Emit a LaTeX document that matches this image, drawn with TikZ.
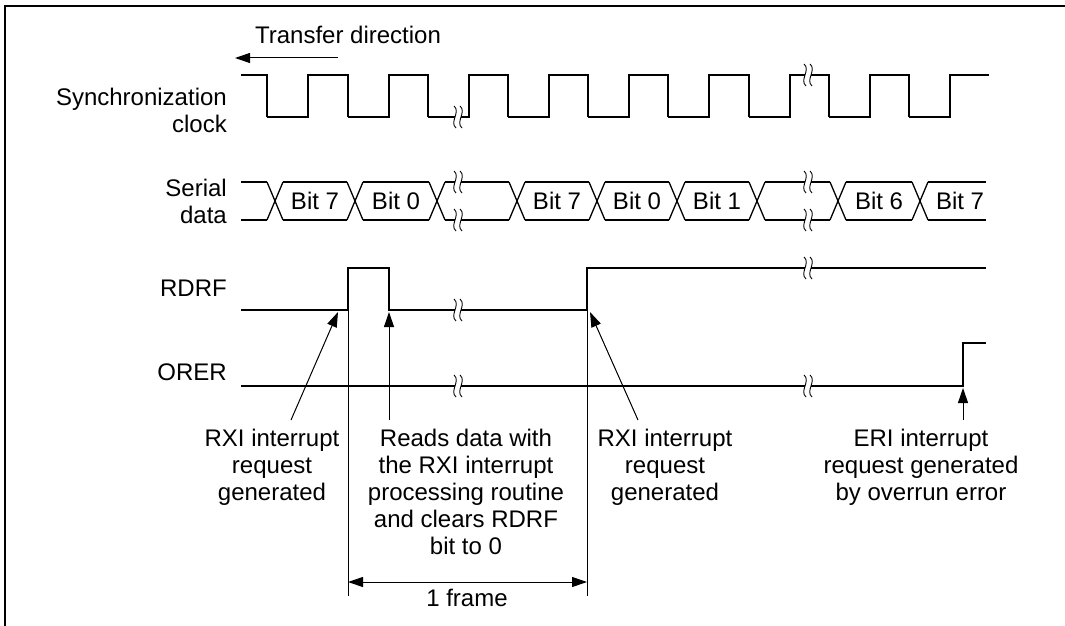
\documentclass[tikz,border=0pt]{standalone}
\usepackage{fontspec}
\setmainfont{Liberation Sans}
\usetikzlibrary{arrows.meta}

\begin{document}
\begin{tikzpicture}[
    x=1pt, y=-1pt,
    every node/.style={font=\fontsize{24}{27}\selectfont, inner sep=0pt},
    wave/.style={line width=1.3pt},
    sig/.style={anchor=east, align=right},
    note/.style={anchor=north, align=center},
    arrow/.style={-{Triangle[length=15pt,width=10pt]}, line width=1pt},
    brk/.pic={
        \fill[white] (-3,-9) rectangle (3,9);
        \foreach \d in {-3,3}
            \draw[line width=0.9pt] ({\d-1},-11) .. controls ({\d+6},-5) and ({\d-6},5) .. ({\d+1},11);
    }
]
    \useasboundingbox (0,0) rectangle (1065,626);
    \draw[line width=2.5pt] (5,626) -- (5,6) -- (1066,6);

    % signal names
    \node[sig] (clk) at (227,110) {Synchronization\\clock};
    \node[sig] (sd) at (227,201) {Serial\\data};
    \node[sig] (rdrf) at (227,288) {RDRF};
    \node[sig] (orer) at (227,372) {ORER};

    % transfer direction
    \node (dir) at (348,35) {Transfer direction};
    \coordinate (dirR) at (338,58);
    \coordinate (dirL) at (235,58);
    \draw[arrow] (dirR) -- (dirL);

    % synchronization clock
    \draw[wave] (241,75) -| (267,117);
    \foreach \f/\r/\g in {267/308/348, 348/389/428, 428/469/508, 508/549/588,
                          588/629/668, 668/709/749, 749/790/829, 829/870/909}
        \draw[wave] (\f,117) -| (\r,75) -| (\g,117);
    \draw[wave] (909,117) -| (950,75) -- (989,75);

    % serial data
    \foreach \c in {275,355,437,517,597,677,757,838,920}
        \draw[wave] (\c-8,182) -- (\c+8,220) (\c-8,220) -- (\c+8,182);
    \foreach \a/\b in {241/267, 283/347, 363/429, 445/509, 525/589, 605/669,
                       685/749, 765/830, 846/912, 928/986}
        \draw[wave] (\a,182) -- (\b,182) (\a,220) -- (\b,220);
    \node (b1) at (315,201) {Bit 7};
    \node (b2) at (396,201) {Bit 0};
    \node (b3) at (557,201) {Bit 7};
    \node (b4) at (637,201) {Bit 0};
    \node (b5) at (717,201) {Bit 1};
    \node (b6) at (879,201) {Bit 6};
    \node (b7) at (960,201) {Bit 7};

    % RDRF and ORER
    \draw[wave] (241,310) -| (348,268) -| (389,310) -| (587,268) -- (986,268);
    \draw[wave] (241,386) -| (963,343) -- (986,343);
    \draw[line width=0.9pt] (348,310) -- (348,596) (587,310) -- (587,596);

    % breaks
    \foreach \x/\y in {458/117, 808/75, 458/182, 458/220, 808/182, 808/220,
                       458/310, 808/268, 458/386, 808/386}
        \pic at (\x,\y) {brk};

    % notes
    \node[note] (rxi1) at (272,429) {RXI interrupt\\request\\generated};
    \node[note] (rd) at (466,429) {Reads data with\\the RXI interrupt\\processing routine\\and clears RDRF\\bit to 0};
    \node[note] (rxi2) at (665,429) {RXI interrupt\\request\\generated};
    \node[note] (eri) at (921,429) {ERI interrupt\\request generated\\by overrun error};

    \coordinate (rxi1tip) at (338,312);
    \coordinate (rdtip) at (389,312);
    \coordinate (rxi2tip) at (590,312);
    \coordinate (eritip) at (963,388);
    \draw[arrow] ([xshift=19pt,yshift=9pt]rxi1.north) -- (rxi1tip);
    \draw[arrow] ([xshift=-77pt,yshift=9pt]rd.north) -- (rdtip);
    \draw[arrow] ([xshift=-27pt,yshift=9pt]rxi2.north) -- (rxi2tip);
    \draw[arrow] ([xshift=42pt,yshift=9pt]eri.north) -- (eritip);

    % one frame
    \coordinate (fs) at (348,582);
    \coordinate (fe) at (587,582);
    \draw[{Triangle[length=15pt,width=10pt]}-{Triangle[length=15pt,width=10pt]}, line width=1pt] (fs) -- (fe);
    \node (frame) at (467,598) {1 frame};
\end{tikzpicture}
\end{document}
